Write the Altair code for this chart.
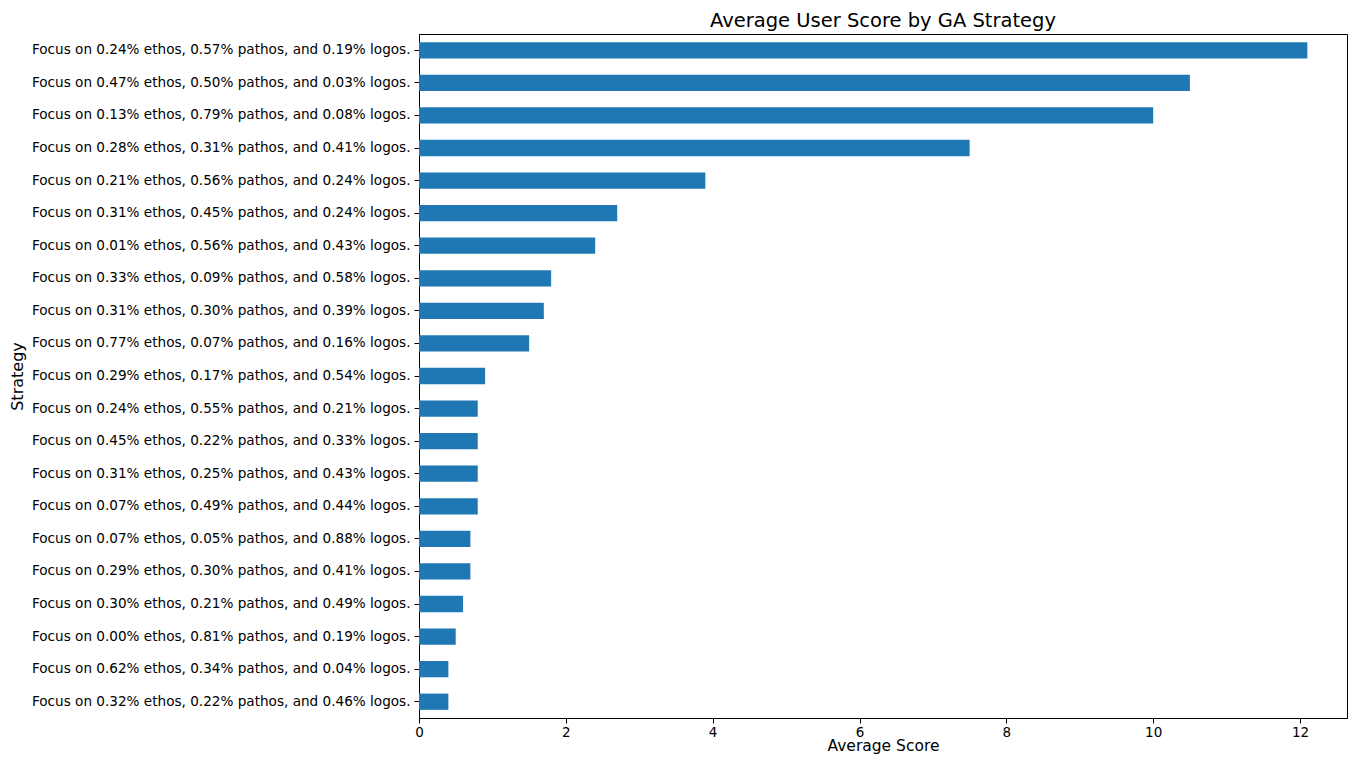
import altair as alt
import pandas as pd

strategies = [
    "Focus on 0.24% ethos, 0.57% pathos, and 0.19% logos.",
    "Focus on 0.47% ethos, 0.50% pathos, and 0.03% logos.",
    "Focus on 0.13% ethos, 0.79% pathos, and 0.08% logos.",
    "Focus on 0.28% ethos, 0.31% pathos, and 0.41% logos.",
    "Focus on 0.21% ethos, 0.56% pathos, and 0.24% logos.",
    "Focus on 0.31% ethos, 0.45% pathos, and 0.24% logos.",
    "Focus on 0.01% ethos, 0.56% pathos, and 0.43% logos.",
    "Focus on 0.33% ethos, 0.09% pathos, and 0.58% logos.",
    "Focus on 0.31% ethos, 0.30% pathos, and 0.39% logos.",
    "Focus on 0.77% ethos, 0.07% pathos, and 0.16% logos.",
    "Focus on 0.29% ethos, 0.17% pathos, and 0.54% logos.",
    "Focus on 0.24% ethos, 0.55% pathos, and 0.21% logos.",
    "Focus on 0.45% ethos, 0.22% pathos, and 0.33% logos.",
    "Focus on 0.31% ethos, 0.25% pathos, and 0.43% logos.",
    "Focus on 0.07% ethos, 0.49% pathos, and 0.44% logos.",
    "Focus on 0.07% ethos, 0.05% pathos, and 0.88% logos.",
    "Focus on 0.29% ethos, 0.30% pathos, and 0.41% logos.",
    "Focus on 0.30% ethos, 0.21% pathos, and 0.49% logos.",
    "Focus on 0.00% ethos, 0.81% pathos, and 0.19% logos.",
    "Focus on 0.62% ethos, 0.34% pathos, and 0.04% logos.",
    "Focus on 0.32% ethos, 0.22% pathos, and 0.46% logos.",
]
scores = [12.1, 10.5, 10.0, 7.5, 3.9, 2.7, 2.4, 1.8, 1.7, 1.5, 0.9,
          0.8, 0.8, 0.8, 0.8, 0.7, 0.7, 0.6, 0.5, 0.4, 0.4]
x_ticks = [0, 2, 4, 6, 8, 10, 12]

df = pd.DataFrame({"Strategy": strategies, "Score": scores})

FONT = "DejaVu Sans"

chart = alt.Chart(df).mark_bar(color="#1f77b4").encode(
    x=alt.X(
        "Score:Q",
        title="Average Score",
        scale=alt.Scale(domain=[0, 12.64], nice=False, zero=True),
        axis=alt.Axis(values=x_ticks, grid=False, tickSize=5, labelPadding=2,
                      labelFontSize=13.5, titleFontSize=15.5, titleFontWeight="normal",
                      titlePadding=0, domainColor="black", tickColor="black",
                      labelColor="black", titleColor="black", labelFlush=False),
    ),
    y=alt.Y(
        "Strategy:N",
        sort=strategies,
        title="Strategy",
        scale=alt.Scale(paddingInner=0.5, paddingOuter=0.25),
        axis=alt.Axis(grid=False, tickSize=5, labelPadding=4, labelFontSize=13.6,
                      titleFontSize=16, titleFontWeight="normal",
                      titleX=-394, titleY=342, titleAngle=-90,
                      domainColor="black", tickColor="black", labelColor="black",
                      titleColor="black", labelLimit=600),
    ),
).properties(
    width=928,
    height=684,
    title=alt.TitleParams("Average User Score by GA Strategy", fontSize=19.5,
                          fontWeight="normal", color="black", anchor="middle",
                          offset=3),
    autosize=alt.AutoSizeParams(type="none"),
    padding={"left": 411, "top": 26, "right": 1, "bottom": 40},
).configure(
    font=FONT,
).configure_view(
    stroke="black", strokeWidth=1,
)

chart.save("out.html", embed_options={"renderer": "svg", "actions": False})
